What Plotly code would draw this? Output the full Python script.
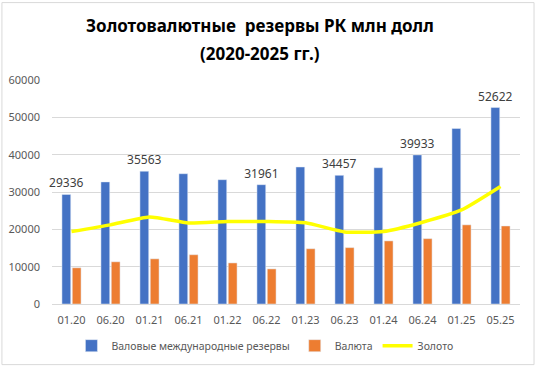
import plotly.graph_objects as go

categories = ["01.20", "06.20", "01.21", "06.21", "01.22", "06.22",
              "01.23", "06.23", "01.24", "06.24", "01.25", "05.25"]
gross_reserves = [29336, 32700, 35563, 34900, 33300, 31961,
                  36700, 34457, 36500, 39933, 47000, 52622]
currency = [9700, 11300, 12100, 13200, 11000, 9400,
            14800, 15100, 16900, 17500, 21200, 20900]
gold = [19400, 21200, 23300, 21700, 22100, 22100,
        21750, 19300, 19400, 21900, 25200, 31500]
labelled = ["01.20", "01.21", "06.22", "06.23", "06.24", "05.25"]
bar_text = [f"{v}" if c in labelled else "" for c, v in zip(categories, gross_reserves)]
title_lines = ["Золотовалютные  резервы РК млн долл", "(2020-2025 гг.)"]

FONT = "Noto Sans"

fig = go.Figure()
fig.add_trace(go.Bar(
    x=categories, y=gross_reserves, name="Валовые международные резервы",
    marker_color="#4472C4", text=bar_text, textposition="outside",
    constraintext="none",
    textfont=dict(size=12, color="#404040", family=FONT), cliponaxis=False,
))
fig.add_trace(go.Bar(
    x=categories, y=currency, name="Валюта", marker_color="#ED7D31",
))
fig.add_trace(go.Scatter(
    x=categories, y=gold, name="Золото", mode="lines",
    line=dict(color="#FFFF00", width=3.5, shape="spline", smoothing=0.5),
))

fig.update_layout(
    width=538, height=369,
    margin=dict(l=52, r=18, t=80, b=65, autoexpand=False),
    paper_bgcolor="white", plot_bgcolor="white",
    barmode="group", bargap=0.47, bargroupgap=0.15,
    font=dict(family=FONT, size=11, color="#595959"),
    legend=dict(
        orientation="h", x=0.455, xanchor="center", y=-0.186, yanchor="middle",
        font=dict(family=FONT, size=10.5, color="#595959"),
        itemwidth=30, traceorder="normal",
    ),
    showlegend=True,
)
for txt, yy in zip(title_lines, [1.245, 1.12]):
    fig.add_annotation(
        text=f"<b>{txt}</b>", xref="paper", yref="paper", x=0.444, y=yy,
        xanchor="center", yanchor="middle", showarrow=False,
        font=dict(family=FONT, size=17, color="black"),
    )
fig.update_yaxes(
    range=[0, 60000], dtick=10000, tickformat="d", automargin=False,
    showgrid=True, gridcolor="#d9d9d9", gridwidth=1,
    zeroline=True, zerolinecolor="#d9d9d9", zerolinewidth=1,
    showline=False, ticks="", ticklabelstandoff=11,
    tickfont=dict(size=11, color="#595959"),
)
fig.update_xaxes(
    showgrid=False, showline=False, ticks="", ticklabelstandoff=8, automargin=False,
    tickfont=dict(size=11, color="#595959"),
)
fig.add_shape(
    type="rect", xref="paper", yref="paper",
    x0=-0.107, x1=1.03, y0=-0.2706, y1=1.3455,
    line=dict(color="#d9d9d9", width=1), fillcolor="rgba(0,0,0,0)", layer="below",
)

fig.write_html("out.html", config={"displayModeBar": False},
               post_script="document.body.style.margin='0';")
